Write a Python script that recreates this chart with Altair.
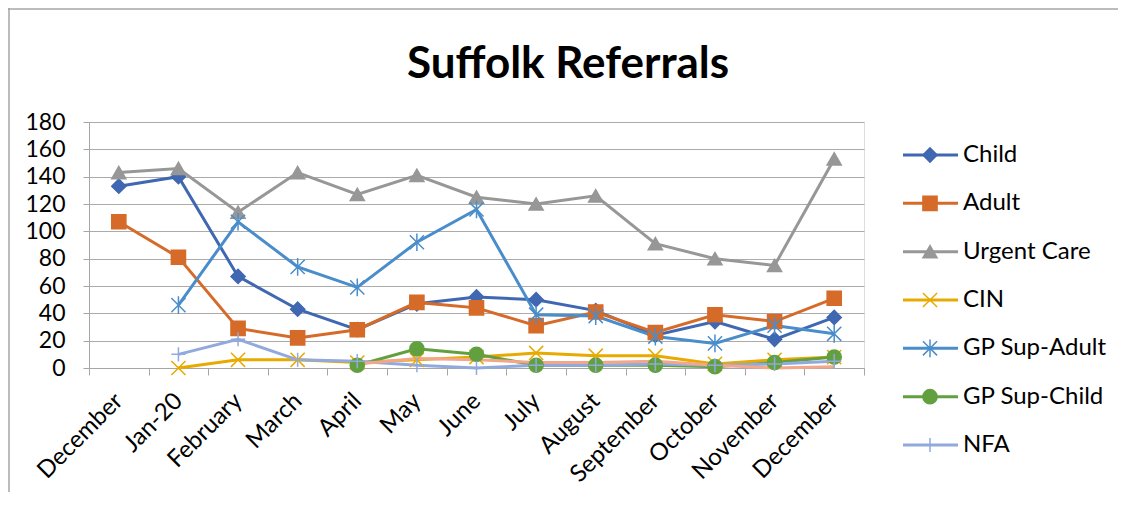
import altair as alt
import pandas as pd

months = ["December", "Jan-20", "February", "March", "April", "May", "June",
          "July", "August", "September", "October", "November", "December"]

series_names = ["Child", "Adult", "Urgent Care", "CIN", "GP Sup-Adult",
                "GP Sup-Child", "NFA", "Other"]
legend_names = series_names[:7]

child = [133, 140, 67, 43, 28, 47, 52, 50, 42, 24, 34, 21, 37]
adult = [107, 81, 29, 22, 28, 48, 44, 31, 41, 26, 39, 34, 51]
urgent = [143, 146, 114, 143, 127, 141, 125, 120, 126, 91, 80, 75, 153]
cin = [None, 0, 6, 6, 4, 6, 8, 11, 9, 9, 3, 6, 8]
gp_adult = [None, 46, 107, 74, 59, 92, 116, 39, 38, 23, 18, 31, 25]
gp_child = [None, None, None, None, 2, 14, 10, 2, 2, 2, 1, 4, 8]
nfa = [None, 10, 21, 6, 5, 2, 0, 2, 2, 3, 2, 3, 5]
other = [None, None, None, None, 3, 7, 6, 4, 4, 5, 2, 0, 1]

y_ticks = [0, 20, 40, 60, 80, 100, 120, 140, 160, 180]
title_text = "Suffolk Referrals"

colors = ["#4067B1", "#D66B29", "#979797", "#E8AA00", "#4A8DCB",
          "#62A03F", "#91A9DC", "#F2A68A"]
shapes = ["diamond", "square", "triangle-up", "M-1,-1L1,1M-1,1L1,-1",
          "M-1,-1L1,1M-1,1L1,-1M0,-1.25L0,1.25", "circle",
          "M0,-1L0,1M-1,0L1,0", "circle"]

all_values = [child, adult, urgent, cin, gp_adult, gp_child, nfa, other]
rows = []
for name, vals in zip(series_names, all_values):
    for i, v in enumerate(vals):
        if v is not None:
            rows.append({"series": name, "idx": i, "value": v})
df = pd.DataFrame(rows)
leg_df = pd.DataFrame({"series": legend_names})
one = pd.DataFrame({"t": [title_text]})

FONT = "Lato"
cscale = alt.Scale(domain=series_names, range=colors)
sscale = alt.Scale(domain=series_names, range=shapes)

label_expr = "[" + ",".join("'" + m + "'" for m in months) + "][datum.value]"

x_axis = alt.Axis(title=None, labelExpr=label_expr, labelAngle=-45,
                  labelAlign="right", labelBaseline="middle",
                  tickBand="extent", tickSize=7, tickColor="#A6A6A6",
                  domainColor="#A6A6A6", labelFontSize=24,
                  labelFont=FONT, labelColor="#000000",
                  labelOverlap=False, labelPadding=22, grid=False)
x_scale = alt.Scale(type="band", paddingInner=0, paddingOuter=0)
y_axis = alt.Axis(title=None, values=y_ticks, tickSize=6, tickColor="#A6A6A6",
                  domainColor="#A6A6A6", gridColor="#ABABAB", grid=True,
                  labelFontSize=23, labelFont=FONT, labelColor="#000000",
                  labelPadding=18, labelOverlap=False, labelFlush=False,
                  labelBound=False)
y_scale = alt.Scale(domain=[0, 180], nice=False)

lines = alt.Chart(df).mark_line(strokeWidth=3).encode(
    x=alt.X("idx:O", scale=x_scale, axis=x_axis),
    y=alt.Y("value:Q", scale=y_scale, axis=y_axis),
    color=alt.Color("series:N", scale=cscale, legend=None),
    detail="series:N",
)

points = alt.Chart(df).mark_point(filled=True, strokeWidth=1.5, opacity=1).encode(
    x=alt.X("idx:O", scale=x_scale, axis=x_axis),
    y=alt.Y("value:Q", scale=y_scale, axis=y_axis),
    fill=alt.Fill("series:N", scale=cscale, legend=None),
    stroke=alt.Stroke("series:N", scale=cscale, legend=None),
    shape=alt.Shape("series:N", scale=sscale, legend=None),
    size=alt.value(200),
).transform_filter(alt.datum.series != "Other")

main = alt.layer(lines, points)

leg_y = alt.Y("series:N", sort=legend_names,
              scale=alt.Scale(type="point", domain=legend_names, range=[33, 323], padding=0),
              axis=None)

leg_rule = alt.Chart(leg_df).mark_rule(strokeWidth=3).encode(
    x=alt.value(814), x2=alt.value(869), y=leg_y,
    color=alt.Color("series:N", scale=cscale, legend=None),
)
leg_pt = alt.Chart(leg_df).mark_point(filled=True, strokeWidth=1.5, opacity=1).encode(
    x=alt.value(841), y=leg_y,
    fill=alt.Fill("series:N", scale=cscale, legend=None),
    stroke=alt.Stroke("series:N", scale=cscale, legend=None),
    shape=alt.Shape("series:N", scale=sscale, legend=None),
    size=alt.value(200),
)
leg_txt = alt.Chart(leg_df).mark_text(align="left", baseline="middle", fontSize=24,
                                      font=FONT, color="#000000").encode(
    x=alt.value(874), y=leg_y, text="series:N",
)
legend = alt.layer(leg_rule, leg_pt, leg_txt)

title = alt.Chart(one).mark_text(align="center", baseline="alphabetic", fontSize=44,
                                 font=FONT, fontWeight="bold", color="#000000").encode(
    x=alt.value(479), y=alt.value(-44), text="t:N")

border_top = alt.Chart(one).mark_rule(color="#A6A6A6", strokeWidth=1.5).encode(
    x=alt.value(-81), x2=alt.value(1029), y=alt.value(-113))
border_left = alt.Chart(one).mark_rule(color="#A6A6A6", strokeWidth=1.5).encode(
    x=alt.value(-80), y=alt.value(-114), y2=alt.value(370))

chart = alt.layer(main, legend, title, border_top, border_left).resolve_scale(
    y="independent"
).properties(
    width=775, height=246,
    padding={"left": 81, "top": 114, "right": 254, "bottom": 124},
    autosize=alt.AutoSizeParams(type="none"),
).configure_view(stroke=None).configure(font=FONT)

chart.save("out.html", embed_options={"renderer": "svg", "actions": False})
